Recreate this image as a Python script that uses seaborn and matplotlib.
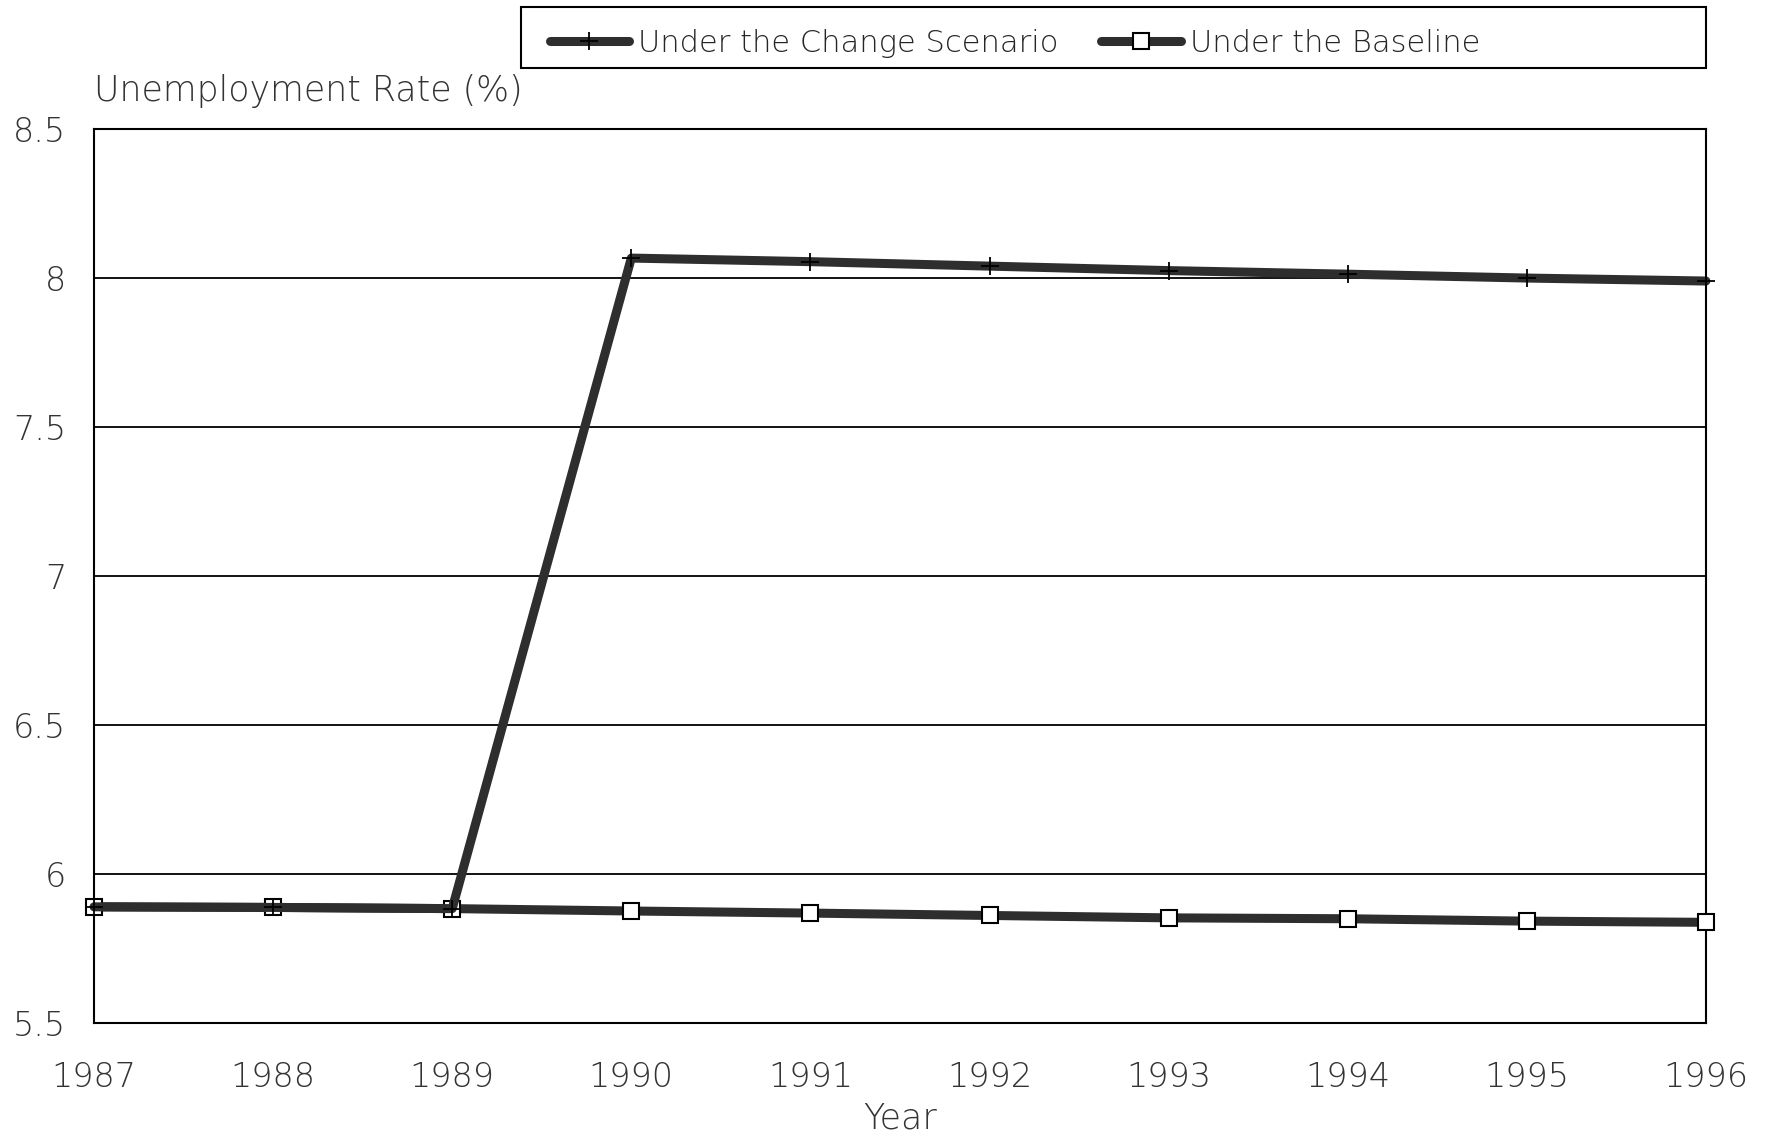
import pandas as pd
import matplotlib.pyplot as plt
from matplotlib.patches import Rectangle
import seaborn as sns

years = list(range(1987, 1997))
change_scenario = [5.89, 5.888, 5.884, 8.067, 8.055, 8.04, 8.025, 8.013, 8.0, 7.99]
baseline = [5.89, 5.888, 5.884, 5.876, 5.869, 5.861, 5.853, 5.85, 5.842, 5.838]
series_names = ["Under the Change Scenario", "Under the Baseline"]
y_ticks = [5.5, 6, 6.5, 7, 7.5, 8, 8.5]

df_change = pd.DataFrame({"Year": years, "Rate": change_scenario})
df_base = pd.DataFrame({"Year": years, "Rate": baseline})

sns.set_style("white")
plt.rcParams["font.family"] = ["DejaVu Sans"]
plt.rcParams["font.weight"] = "light"

fig = plt.figure(figsize=(17.77, 11.39), dpi=100)
ax = fig.add_axes([0.0529, 0.1018, 0.9071, 0.7849])

line_col = "#2e2e2e"
txt_col = "#333333"
# baseline first, change scenario drawn on top
sns.lineplot(data=df_base, x="Year", y="Rate", color=line_col, linewidth=6.5,
             marker="s", markersize=11, markerfacecolor="white",
             markeredgecolor="black", markeredgewidth=1.5, ax=ax, clip_on=False,
             zorder=5)
sns.lineplot(data=df_change, x="Year", y="Rate", color=line_col, linewidth=6.5,
             marker="+", markersize=13, markeredgewidth=1.3,
             markeredgecolor="black", ax=ax, clip_on=False, zorder=6)

ax.set_xlim(1987, 1996)
ax.set_ylim(5.5, 8.5)
ax.set_xticks(years)
ax.set_xticklabels([str(y) for y in years])
ax.set_yticks(y_ticks)
ax.set_yticklabels(["5.5", "6", "6.5", "7", "7.5", "8", "8.5"])
for y in y_ticks[1:-1]:
    ax.axhline(y, color="black", linewidth=1.3, zorder=1)

ax.tick_params(axis="both", length=0, labelsize=24, colors=txt_col)
ax.tick_params(axis="x", pad=27)
ax.tick_params(axis="y", pad=20)
for s in ax.spines.values():
    s.set_color("black")
    s.set_linewidth(1.5)

ax.set_xlabel("Year", fontsize=25, color=txt_col, labelpad=6, fontweight="light")
ax.set_ylabel("")
fig.text(94 / 1777, 1 - 91 / 1139, "Unemployment Rate (%)", fontsize=25,
         color=txt_col, ha="left", va="center")

# legend box above the plot
fig.patches.append(Rectangle((521 / 1777, 1 - 68 / 1139), (1706 - 521) / 1777, 61 / 1139,
                             transform=fig.transFigure, fill=False,
                             edgecolor="black", linewidth=1.5))
handles = [plt.Line2D([], [], color=line_col, linewidth=6.5, marker="+",
                      markersize=13, markeredgewidth=1.3, markeredgecolor="black"),
           plt.Line2D([], [], color=line_col, linewidth=6.5, marker="s",
                      markersize=11, markerfacecolor="white",
                      markeredgecolor="black", markeredgewidth=1.5)]
fig.legend(handles, series_names, loc="center left",
           bbox_to_anchor=(522 / 1777, 1 - 43 / 1139), ncol=2, frameon=False,
           fontsize=22, handlelength=2.6, handletextpad=0.3, columnspacing=1.4)

plt.savefig("out.png", dpi=100)
